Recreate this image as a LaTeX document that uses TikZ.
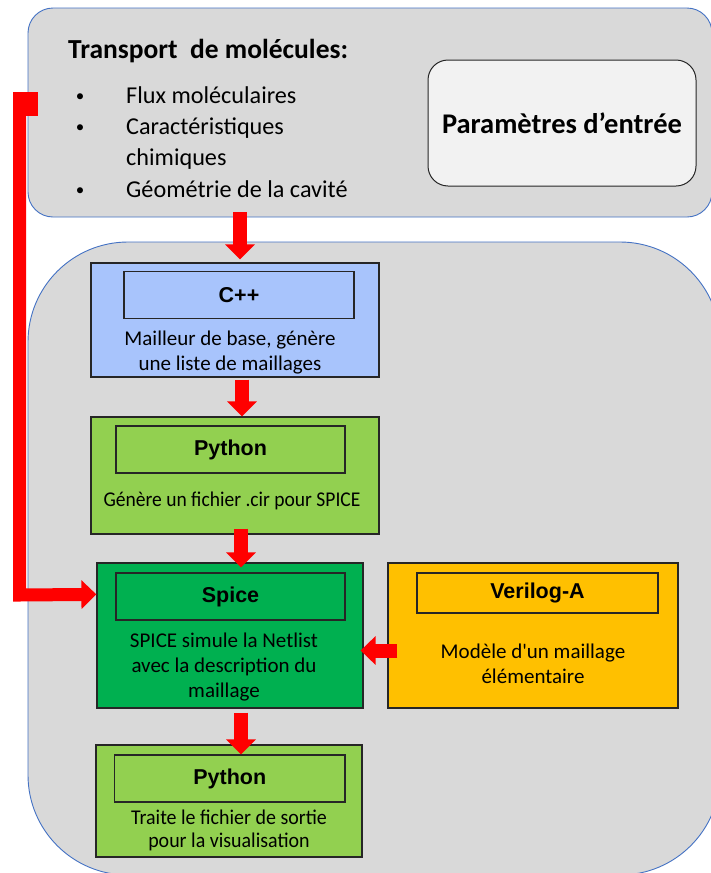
\documentclass[tikz,border=0pt]{standalone}
\usepackage{fontspec}
\setmainfont{Carlito}
\newfontfamily\arialf{Liberation Sans}
\newfontfamily\rawcal{Carlito}[Ligatures=TeXOff]
\usetikzlibrary{arrows.meta,calc}
\definecolor{boxgray}{HTML}{D9D9D9}
\definecolor{edgeblue}{HTML}{4472C4}
\definecolor{paramfill}{HTML}{F2F2F2}
\definecolor{cppblue}{RGB}{168,196,252}
\definecolor{pygreen}{HTML}{92D050}
\definecolor{spgreen}{HTML}{00B050}
\definecolor{vorange}{HTML}{FFC000}
\definecolor{edgedark}{HTML}{262626}
\begin{document}
\begin{tikzpicture}[x=1pt,y=-1pt,
  panel/.style={draw=edgeblue, line width=0.9pt, fill=boxgray, inner sep=0pt},
  stepbox/.style={draw=edgedark, line width=1.2pt, inner sep=0pt},
  labelbox/.style={draw=edgedark, line width=1.2pt, inner sep=0pt,
    font=\arialf\bfseries\fontsize{21.5}{24}\selectfont},
  desc/.style={align=center, font=\fontsize{21}{25}\selectfont, inner sep=0pt},
  bul/.style={anchor=base, inner sep=0pt, font=\fontsize{17}{20}\selectfont},
  bultext/.style={anchor=base west, inner sep=0pt, font=\fontsize{24.2}{29}\selectfont},
  redarrow/.style={draw=red, line width=14pt, -{Triangle[width=29pt,length=15pt]}},
]
\useasboundingbox (0,0) rectangle (710,873);
\fill[white] (0,0) rectangle (710,873);

% panels
\node[panel, rounded corners=25pt, minimum width=684pt, minimum height=209pt] (top) at (370,112.5) {};
\node[panel, rounded corners=100pt, minimum width=692pt, minimum height=633pt] (bottom) at (374,558.5) {};

% top panel content
\node[draw=edgedark, line width=1pt, fill=paramfill, rounded corners=20pt,
      minimum width=268pt, minimum height=126pt,
      font=\bfseries\fontsize{28.5}{32}\selectfont] (param) at (562,123) {Paramètres d’entrée};
\node[anchor=base west, inner sep=0pt, font=\bfseries\fontsize{27.5}{30}\selectfont] (title) at (68,58) {Transport\ \ de molécules:};
\node[bul] (b1) at (80,101) {•};
\node[bultext] (t1) at (126,103) {Flux moléculaires};
\node[bul] (b2) at (80,132) {•};
\node[bultext] (t2) at (126,134) {Caractéristiques};
\node[bultext] (t2b) at (126,165) {chimiques};
\node[bul] (b3) at (80,195) {•};
\node[bultext] (t3) at (126,197) {Géométrie de la cavité};

% C++
\node[stepbox, fill=cppblue, minimum width=288pt, minimum height=114pt] (cpp) at (235,320) {};
\node[labelbox, minimum width=230pt, minimum height=47pt] (cpplab) at (239,295) {C++};
\node[desc] (cppdesc) at (230,352.5) {Mailleur de base, génère\\une liste de maillages};

% Python 1
\node[stepbox, fill=pygreen, minimum width=288pt, minimum height=117pt] (py1) at (235,475.5) {};
\node[labelbox, minimum width=229pt, minimum height=47pt] (py1lab) at (230.5,449.5) {Python};
\node[desc] (py1desc) at (232,501) {\scalebox{0.93}[1]{Génère un fichier .cir pour SPICE}};

% Spice
\node[stepbox, fill=spgreen, minimum width=266pt, minimum height=145pt] (spice) at (230,635.5) {};
\node[labelbox, minimum width=229pt, minimum height=47pt] (splab) at (230.5,596.5) {Spice};
\node[desc] (spdesc) at (224,667) {SPICE simule la Netlist\\avec la description du\\maillage};

% Verilog-A
\node[stepbox, fill=vorange, minimum width=290pt, minimum height=145pt] (veri) at (533,635.5) {};
\node[labelbox, minimum width=241pt, minimum height=40pt] (verilab) at (537.5,593) {Verilog-A};
\node[desc, font=\rawcal\fontsize{21}{25}\selectfont] (veridesc) at (533,663.5) {Modèle d'un maillage\\élémentaire};

% Python 2
\node[stepbox, fill=pygreen, minimum width=266pt, minimum height=112pt] (py2) at (229,801) {};
\node[labelbox, minimum width=230.5pt, minimum height=47pt] (py2lab) at (229.75,778.5) {Python};
\node[desc, font=\fontsize{21}{23.5}\selectfont] (py2desc) at (229,830.5) {\scalebox{0.95}[1]{Traite le fichier de sortie}\\\scalebox{0.95}[1]{pour la visualisation}};

% arrows
\draw[redarrow] ($(top.south -| cpp.north)+(5,-5)$) -- ($(cpp.north)+(5,-3)$);
\draw[redarrow] ($(cpp.south)+(7,2)$) -- ($(py1.north)+(7,0)$);
\draw[redarrow] ($(py1.south)+(6,-6)$) -- ($(spice.north)+(11,5)$);
\draw[redarrow] ($(spice.south)+(11,4)$) -- ($(py2.north)+(12,10)$);
\draw[draw=red, line width=14pt, -{Triangle[width=28pt,length=15pt]}] ($(veri.west)+(10,15)$) -- ($(spice.east)+(-3,15)$);

% feedback connector
\coordinate (src) at (19.5,92);
\fill[red] (13,92) rectangle (38,116);
\draw[draw=red, line width=13pt, line join=miter, -{Triangle[width=28pt,length=15pt]}]
  (src) -- (19.5,595) -- ($(spice.north west)+(0,32)$);
\end{tikzpicture}
\end{document}
